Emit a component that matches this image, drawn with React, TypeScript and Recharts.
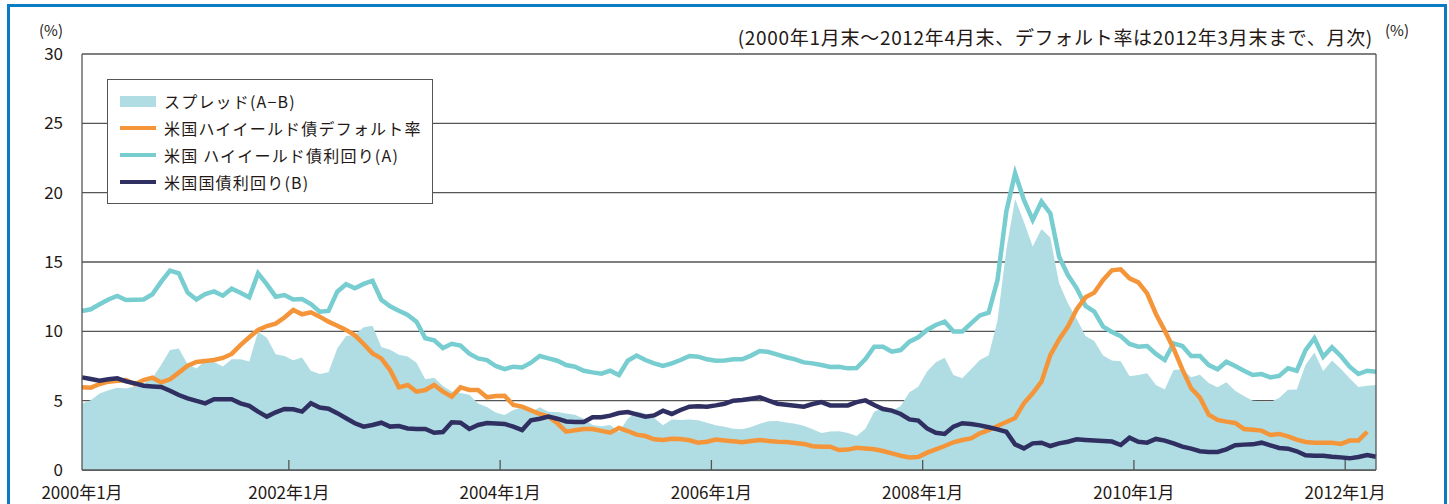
import { ComposedChart, Area, Line, XAxis, YAxis, CartesianGrid } from "recharts"

// 米国ハイイールド債利回り(A), 2000年1月末〜2012年4月末 (月次)
const hyYield = [
  11.47, 11.59, 11.95, 12.3, 12.55, 12.26, 12.28, 12.3, 12.67, 13.58,
  14.38, 14.18, 12.79, 12.3, 12.69, 12.88, 12.57, 13.08, 12.79, 12.45,
  14.18, 13.39, 12.5, 12.62, 12.3, 12.33, 11.97, 11.42, 11.47, 12.86,
  13.4, 13.1, 13.42, 13.65, 12.28, 11.8, 11.48, 11.18, 10.7, 9.5,
  9.35, 8.8, 9.1, 8.97, 8.39, 8.05, 7.93, 7.5, 7.28, 7.45,
  7.4, 7.74, 8.22, 8.05, 7.88, 7.57, 7.45, 7.16, 7.04, 6.95,
  7.16, 6.85, 7.88, 8.25, 7.93, 7.69, 7.5, 7.69, 7.93, 8.22,
  8.17, 7.98, 7.88, 7.9, 7.98, 7.98, 8.25, 8.58, 8.51, 8.32,
  8.13, 7.98, 7.76, 7.69, 7.57, 7.43, 7.45, 7.33, 7.35, 8.0,
  8.89, 8.89, 8.53, 8.65, 9.25, 9.57, 10.1, 10.46, 10.7, 9.98,
  9.98, 10.58, 11.15, 11.35, 13.7, 18.63, 21.4, 19.47, 18.03, 19.35,
  18.5, 15.38, 14.06, 13.1, 11.83, 11.42, 10.34, 9.95, 9.65, 9.09,
  8.89, 8.94, 8.37, 7.93, 9.13, 8.94, 8.22, 8.22, 7.57, 7.26,
  7.81, 7.5, 7.16, 6.85, 6.92, 6.68, 6.78, 7.33, 7.16, 8.65,
  9.5, 8.17, 8.85, 8.22, 7.45, 6.92, 7.16, 7.09,
]

// 米国国債利回り(B)
const tsyYield = [
  6.68, 6.56, 6.44, 6.54, 6.61, 6.39, 6.25, 6.08, 6.03, 5.99,
  5.72, 5.41, 5.17, 4.98, 4.81, 5.1, 5.1, 5.1, 4.81, 4.62,
  4.21, 3.85, 4.16, 4.4, 4.38, 4.21, 4.81, 4.5, 4.42, 4.1,
  3.73, 3.37, 3.13, 3.25, 3.41, 3.13, 3.17, 3.0, 2.96, 2.96,
  2.69, 2.74, 3.44, 3.41, 2.96, 3.25, 3.39, 3.35, 3.32, 3.13,
  2.88, 3.58, 3.7, 3.85, 3.7, 3.5, 3.46, 3.46, 3.8, 3.8,
  3.92, 4.11, 4.18, 4.01, 3.85, 3.94, 4.28, 4.04, 4.33, 4.57,
  4.59, 4.57, 4.66, 4.78, 5.0, 5.05, 5.14, 5.24, 5.0, 4.78,
  4.71, 4.64, 4.57, 4.76, 4.9, 4.66, 4.66, 4.66, 4.9, 5.02,
  4.69, 4.4, 4.28, 4.04, 3.65, 3.56, 3.0, 2.69, 2.6, 3.13,
  3.37, 3.32, 3.22, 3.08, 2.93, 2.76, 1.85, 1.56, 1.92, 1.97,
  1.73, 1.92, 2.04, 2.21, 2.16, 2.12, 2.09, 2.05, 1.8, 2.33,
  2.04, 1.97, 2.24, 2.12, 1.92, 1.68, 1.54, 1.35, 1.3, 1.3,
  1.49, 1.78, 1.83, 1.85, 1.97, 1.78, 1.59, 1.54, 1.35, 1.06,
  1.03, 1.03, 0.96, 0.91, 0.84, 0.94, 1.08, 0.96,
]

// 米国ハイイールド債デフォルト率 (2012年3月末まで)
const defaultRate = [
  5.96, 5.94, 6.2, 6.37, 6.44, 6.49, 6.18, 6.49, 6.66, 6.32,
  6.54, 7.02, 7.52, 7.79, 7.86, 7.93, 8.08, 8.37, 9.01, 9.57,
  10.1, 10.38, 10.55, 11.0, 11.54, 11.23, 11.37, 11.06, 10.7, 10.4,
  10.1, 9.71, 9.09, 8.41, 8.05, 7.21, 5.96, 6.13, 5.65, 5.77,
  6.13, 5.65, 5.29, 5.96, 5.77, 5.77, 5.24, 5.34, 5.36, 4.69,
  4.57, 4.3, 4.04, 3.85, 3.37, 2.76, 2.86, 2.96, 2.96, 2.82,
  2.69, 3.03, 2.81, 2.55, 2.45, 2.21, 2.16, 2.26, 2.24, 2.14,
  1.97, 2.04, 2.19, 2.12, 2.07, 2.0, 2.09, 2.16, 2.09, 2.04,
  2.02, 1.95, 1.88, 1.71, 1.68, 1.68, 1.44, 1.47, 1.6, 1.55,
  1.5, 1.37, 1.2, 1.03, 0.91, 0.94, 1.25, 1.49, 1.73, 2.0,
  2.16, 2.28, 2.64, 2.88, 3.17, 3.46, 3.75, 4.81, 5.53, 6.37,
  8.29, 9.42, 10.34, 11.59, 12.45, 12.79, 13.7, 14.4, 14.47, 13.82,
  13.53, 12.74, 11.25, 10.05, 8.77, 7.26, 5.89, 5.22, 3.99, 3.61,
  3.49, 3.39, 2.96, 2.91, 2.84, 2.52, 2.6, 2.43, 2.19, 2.02,
  1.97, 1.97, 1.97, 1.88, 2.12, 2.12, 2.76,
]

const xTickPos = [0, 23.5, 47.5, 71.5, 95.5, 119.5, 143.5]
const xTickLabels = ["2000年1月", "2002年1月", "2004年1月", "2006年1月", "2008年1月", "2010年1月", "2012年1月"]
const yTicks = [0, 5, 10, 15, 20, 25, 30]

const data = hyYield.map((hy, i) => ({
  i,
  hy,
  tsy: tsyYield[i],
  spread: +(hy - tsyYield[i]).toFixed(2),
  dflt: i < defaultRate.length ? defaultRate[i] : null,
}))

const FONT = '"Noto Sans CJK JP", "Noto Sans", sans-serif'
const INK = "#231815"
const GRID = "#555555"
const C_SPREAD = "#b0dde3"
const C_DEFAULT = "#f5953a"
const C_HY = "#77cdd0"
const C_TSY = "#302f62"

function XTick({ x, y, payload, index }: any) {
  const label = xTickLabels[xTickPos.indexOf(payload.value)] ?? ""
  return (
    <g>
      {index > 0 && <line x1={x} x2={x} y1={y - 10} y2={y} stroke={GRID} strokeWidth={1.3} />}
      <text x={x} y={y + 29} textAnchor="middle" fontSize={17} fontFamily={FONT} fill={INK}>
        {label}
      </text>
    </g>
  )
}

const legendRows = [
  { name: "スプレッド(A−B)", color: C_SPREAD, kind: "area" },
  { name: "米国ハイイールド債デフォルト率", color: C_DEFAULT, kind: "line" },
  { name: "米国 ハイイールド債利回り(A)", color: C_HY, kind: "line" },
  { name: "米国国債利回り(B)", color: C_TSY, kind: "line" },
]

export default function App() {
  return (
    <div style={{ position: "absolute", left: 0, top: 0, width: 1449, height: 504, overflow: "hidden", background: "#fff", fontFamily: FONT, color: INK }}>
      <div style={{ position: "absolute", left: 7, top: 4, width: 1434, height: 560, border: "3.5px solid #0a7cc4" }} />

      <div style={{ position: "absolute", left: 39, top: 22, fontSize: 15, lineHeight: 1 }}>(%)</div>
      <div style={{ position: "absolute", left: 1385, top: 22, fontSize: 15, lineHeight: 1 }}>(%)</div>
      <div style={{ position: "absolute", right: 76, top: 23, fontSize: 19, letterSpacing: 0.7, whiteSpace: "nowrap" }}>
        (2000年1月末～2012年4月末、デフォルト率は2012年3月末まで、月次)
      </div>

      <div style={{ position: "absolute", left: 0, top: 0 }}>
        <ComposedChart width={1449} height={504} data={data} margin={{ top: 54, right: 0, bottom: 0, left: 0 }}>
          <CartesianGrid vertical={false} stroke={GRID} strokeWidth={1.3} />
          <XAxis
            dataKey="i"
            type="number"
            domain={[0, 147]}
            ticks={xTickPos}
            interval={0}
            height={34}
            tickSize={0}
            tickMargin={0}
            axisLine={{ stroke: GRID, strokeWidth: 1.3 }}
            tick={<XTick />}
          />
          <YAxis
            domain={[0, 30]}
            ticks={yTicks}
            width={82}
            tickSize={0}
            tickMargin={19}
            axisLine={{ stroke: GRID, strokeWidth: 1.3 }}
            tick={{ fontSize: 17, fill: INK, fontFamily: FONT }}
          />
          <YAxis
            yAxisId="r"
            orientation="right"
            domain={[0, 30]}
            ticks={yTicks}
            width={73}
            tickSize={0}
            tickMargin={17}
            axisLine={{ stroke: GRID, strokeWidth: 1.3 }}
            tick={{ fontSize: 17, fill: INK, fontFamily: FONT, textAnchor: "start" }}
          />
          <Area dataKey="spread" type="linear" fill={C_SPREAD} fillOpacity={1} stroke="none" isAnimationActive={false} />
          <Line dataKey="hy" type="linear" stroke={C_HY} strokeWidth={4.5} dot={false} isAnimationActive={false} />
          <Line dataKey="dflt" type="linear" stroke={C_DEFAULT} strokeWidth={4.5} dot={false} isAnimationActive={false} />
          <Line dataKey="tsy" type="linear" stroke={C_TSY} strokeWidth={4.5} dot={false} isAnimationActive={false} />
        </ComposedChart>
      </div>

      <div style={{ position: "absolute", left: 107, top: 79, width: 324, height: 123, border: "1.3px solid #555", background: "#fff", boxSizing: "content-box" }}>
        {legendRows.map((r, k) => (
          <div key={k} style={{ position: "absolute", left: 12, top: 8 + k * 27, height: 26, display: "flex", alignItems: "center" }}>
            <div style={{ width: 36, height: r.kind === "area" ? 11 : 4, background: r.color, marginRight: 8 }} />
            <span style={{ fontSize: 16, letterSpacing: 1.2, whiteSpace: "nowrap" }}>{r.name}</span>
          </div>
        ))}
      </div>
    </div>
  )
}
